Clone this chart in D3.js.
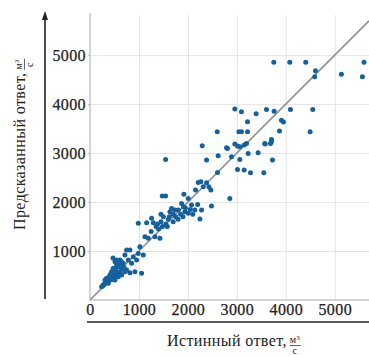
<!DOCTYPE html>
<html>
<head>
<meta charset="utf-8">
<script src="https://cdn.jsdelivr.net/npm/d3@7"></script>
<style>
  body { margin: 0; background: #fff; }
  svg { display: block; }
  text { font-family: "Liberation Serif", "Times New Roman", serif; }
</style>
</head>
<body>
<div id="plot-container"></div>
<script>
const w = 369;
const h = 356;

// data: true vs predicted discharge (m3/s)
const actual = [
  3755, 4082, 4408, 4606, 4592, 5136, 5565, 5598,
  2959, 3095, 3605, 3762, 4095, 4551, 3394, 3218, 3912, 3952,
  2599, 3041, 3095, 3218, 3871, 4497, 3707, 3687, 3578, 2293, 2789, 2959, 3014, 3061, 3150,
  1545, 2381, 2619, 2810, 3197, 3231, 2891, 3061, 3435, 3571, 3707, 3728, 3014, 3150, 3279, 3551, 2605,
  2211, 2265, 2381, 2429, 2469, 2313, 2157, 1476, 1545, 1918, 2007, 1871, 1912, 2075, 2143, 2279, 2482, 2857, 2245,
  1667, 1735, 1803, 1633, 1939, 2007, 1500, 1600, 1700, 1800, 1900, 1550, 1450, 1350, 1400, 1250, 2100, 2200, 1850, 1750,
  1620, 1450, 1380, 1700, 1950, 2050, 1580, 1480,
  986, 1259, 1293, 1157, 1122, 1190, 1327, 1429, 1054,
  748, 816, 1020, 986, 1088, 884, 952, 714, 782, 612, 680, 850, 918, 816,
  510, 544, 612, 748, 646, 476, 442, 408, 374, 340, 306, 272, 238, 510, 578, 544, 476, 408, 612, 340, 442, 306, 374, 646, 714, 510, 578, 544, 470,
  260, 290, 320, 360, 390, 430, 460, 500, 420, 380, 350, 450, 480, 520, 560, 600, 640, 470, 430, 400,
  560, 620, 680, 590, 650, 700, 530
];
const predicted = [
  4857, 4857, 4857, 4680, 4557, 4612, 4557, 4857,
  3898, 3843, 3891, 3857, 3891, 3891, 3803, 3639, 3673, 3633,
  3435, 3435, 3435, 3435, 3449, 3435, 3279, 3197, 3184, 3150, 3109, 3184, 3143, 3129, 3163,
  2871, 2857, 2945, 3095, 3197, 2993, 2925, 2871, 3007, 3197, 3231, 2857, 2667, 2653, 2598, 2598, 2605,
  2401, 2415, 2394, 2313, 2245, 2313, 2245, 2122, 2122, 2157, 2075, 1973, 1905, 1939, 1837, 1837, 1918, 2075, 1653,
  1871, 1837, 1837, 1803, 1803, 1769, 1700, 1650, 1600, 1650, 1700, 1550, 1600, 1500, 1450, 1400, 1750, 1950, 1750, 1700,
  1700, 1750, 1550, 1750, 1880, 1850, 1500, 1500,
  1565, 1667, 1578, 1578, 1292, 1259, 1292, 1259, 545,
  1020, 1020, 1088, 952, 918, 884, 816, 918, 816, 816, 748, 748, 578, 558,
  782, 714, 680, 612, 646, 646, 578, 510, 442, 374, 340, 306, 272, 545, 545, 476, 442, 408, 578, 442, 476, 408, 340, 510, 578, 408, 476, 816, 857,
  290, 320, 360, 380, 420, 460, 490, 520, 470, 400, 350, 420, 560, 620, 700, 740, 780, 600, 540, 480,
  680, 720, 640, 760, 700, 660, 600
];
const xTicks = [0, 1000, 2000, 3000, 4000, 5000];
const yTicks = [1000, 2000, 3000, 4000, 5000];

const points = actual.map((a, i) => ({ a: a, p: predicted[i] }));
const serif = '"Liberation Serif", "Times New Roman", serif';

const svg = d3.select('#plot-container')
    .append('svg')
    .attr('width', w)
    .attr('height', h);

const xScale = d3.scaleLinear().domain([0, 5700]).range([90, 369]);
const yScale = d3.scaleLinear().domain([0, 5820]).range([300, 15]);

// grid
svg.append('g')
    .attr('transform', 'translate(0,300)')
    .call(d3.axisBottom(xScale).tickValues(xTicks.slice(1)).tickSize(-285).tickFormat(''))
    .call(g => g.select('.domain').remove())
    .call(g => g.selectAll('line').attr('stroke', '#e4e4e4'));

svg.append('g')
    .attr('transform', 'translate(90,0)')
    .call(d3.axisLeft(yScale).tickValues(yTicks).tickSize(-279).tickFormat(''))
    .call(g => g.select('.domain').remove())
    .call(g => g.selectAll('line').attr('stroke', '#e4e4e4'));

// axes
const xAxis = d3.axisBottom(xScale).tickValues(xTicks).tickSize(0).tickPadding(4).tickFormat(d3.format('d'));
const yAxis = d3.axisLeft(yScale).tickValues(yTicks).tickSize(2).tickPadding(2).tickFormat(d3.format('d'));

svg.append('g')
    .attr('id', 'x-axis')
    .attr('transform', 'translate(0,300)')
    .call(xAxis)
    .attr('font-family', serif)
    .attr('font-size', 16)
    .call(g => g.select('.domain').attr('stroke', '#aaa').attr('d', 'M90,0H369'))
    .call(g => g.selectAll('text').attr('fill', '#222').attr('stroke', '#222').attr('stroke-width', 0.25)
        .attr('dy', '0.68em').style('letter-spacing', '0.4px'));

svg.append('g')
    .attr('id', 'y-axis')
    .attr('transform', 'translate(90,0)')
    .call(yAxis)
    .attr('font-family', serif)
    .attr('font-size', 16)
    .call(g => g.select('.domain').attr('stroke', '#aaa').attr('d', 'M0,13V300'))
    .call(g => g.selectAll('line').attr('stroke', '#bbb'))
    .call(g => g.selectAll('text').attr('fill', '#222').attr('stroke', '#222').attr('stroke-width', 0.25)
        .style('letter-spacing', '0.4px'));

// ideal line y = x
svg.append('line')
    .attr('x1', xScale(0)).attr('y1', yScale(0))
    .attr('x2', xScale(5700)).attr('y2', yScale(5700))
    .attr('stroke', '#8a8a8a')
    .attr('stroke-width', 1.5);

svg.selectAll('circle')
    .data(points)
    .enter()
    .append('circle')
    .attr('cx', d => xScale(d.a))
    .attr('cy', d => yScale(d.p))
    .attr('r', 2.5)
    .attr('fill', '#15609f');

// outer arrows
svg.append('line')
    .attr('x1', 45).attr('y1', 299).attr('x2', 45).attr('y2', 18)
    .attr('stroke', '#222').attr('stroke-width', 1.6);
svg.append('path')
    .attr('d', 'M45,11 L42,20 L48,20 Z')
    .attr('fill', '#222');
svg.append('line')
    .attr('x1', 87).attr('y1', 322).attr('x2', 369).attr('y2', 322)
    .attr('stroke', '#222').attr('stroke-width', 1.6);

// axis titles with a fraction m3/s
const addTitle = (g, label) => {
    const t = g.append('text')
        .attr('x', 0).attr('y', 0)
        .style('font-size', '16px')
        .style('letter-spacing', '0.4px')
        .attr('fill', '#222')
        .text(label);
    const L = t.node().getComputedTextLength() + 3;
    const num = g.append('text')
        .attr('x', L + 5).attr('y', -3)
        .attr('text-anchor', 'middle')
        .style('font-size', '10px')
        .attr('fill', '#222');
    num.append('tspan').text('м');
    num.append('tspan').attr('dy', -3).style('font-size', '7px').text('3');
    g.append('line')
        .attr('x1', L).attr('x2', L + 11)
        .attr('y1', -0.5).attr('y2', -0.5)
        .attr('stroke', '#222').attr('stroke-width', 0.7);
    g.append('text')
        .attr('x', L + 5).attr('y', 8)
        .attr('text-anchor', 'middle')
        .style('font-size', '10px')
        .attr('fill', '#222')
        .text('с');
};

addTitle(svg.append('g').attr('transform', 'translate(167,346)'), 'Истинный ответ,');
addTitle(svg.append('g').attr('transform', 'translate(25,230) rotate(-90)'), 'Предсказанный ответ,');
</script>
</body>
</html>
